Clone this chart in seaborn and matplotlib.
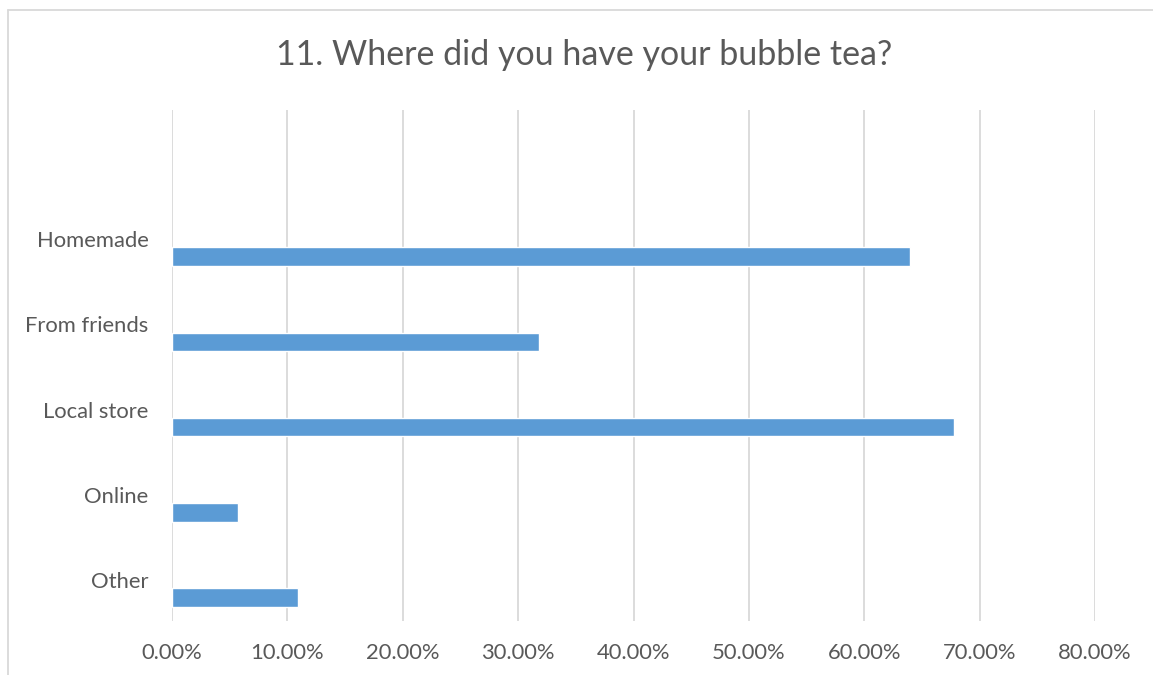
import matplotlib
matplotlib.use("Agg")
import matplotlib.pyplot as plt
import seaborn as sns
import numpy as np
import pandas as pd
from matplotlib.lines import Line2D
from matplotlib.ticker import FuncFormatter, MultipleLocator

categories = ["Homemade", "From friends", "Local store", "Online", "Other"]
values = [0.640, 0.318, 0.678, 0.057, 0.109]
title = "11. Where did you have your bubble tea?"

W, H = 1153, 675
DPI = 100
sns.set_theme(style="white")
plt.rcParams["font.family"] = ["Lato", "DejaVu Sans"]

fig = plt.figure(figsize=(W / DPI, H / DPI), dpi=DPI)
fig.patch.set_facecolor("white")

# axes placement in pixels
x0, x1 = 172, 1095
y_top, y_bot = 110, 621
ax = fig.add_axes([x0 / W, 1 - y_bot / H, (x1 - x0) / W, (y_bot - y_top) / H])

df = pd.DataFrame({"category": categories, "value": values})
sns.barplot(data=df, x="value", y="category", order=categories, orient="h",
            color="#5b9bd5", saturation=1, width=0.217, ax=ax)

ax.set_xlim(0, 0.8)
ax.set_ylim(4.276, -1.72)
ax.xaxis.set_major_locator(MultipleLocator(0.1))
ax.xaxis.set_major_formatter(FuncFormatter(lambda v, p: f"{v*100:.2f}%"))
ax.grid(axis="x", color="#d9d9d9", linewidth=1.3)
ax.grid(axis="y", visible=False)
ax.set_axisbelow(True)
for s in ax.spines.values():
    s.set_visible(False)
ax.set_xlabel("")
ax.set_ylabel("")

pos = np.arange(len(categories)) - 0.205
ax.set_yticks(pos)
ax.set_yticklabels(categories)
ax.tick_params(axis="y", length=0, pad=17, colors="#595959")
ax.tick_params(axis="x", length=0, pad=16, colors="#595959")

t = fig.text(0.5 * (275 + 893) / W, 1 - 55 / H, title, ha="center", va="center",
             color="#595959", fontsize=24)

# fit font sizes to reference text widths
fig.canvas.draw()
r = fig.canvas.get_renderer()
w = t.get_window_extent(r).width
t.set_fontsize(24 * 618 / w)

lab = ax.get_yticklabels()[0]
lw = lab.get_window_extent(r).width
fs = lab.get_fontsize() * 112 / lw
for l in ax.get_yticklabels() + ax.get_xticklabels():
    l.set_fontsize(fs)

# chart border (top and left visible)
lc = "#d9d9d9"
fig.add_artist(Line2D([8 / W, 8 / W], [1 - 10 / H, 0], color=lc, linewidth=1.3,
                      transform=fig.transFigure))
fig.add_artist(Line2D([8 / W, 1], [1 - 10 / H, 1 - 10 / H], color=lc, linewidth=1.3,
                      transform=fig.transFigure))

fig.savefig("out.png", dpi=DPI, facecolor="white")
